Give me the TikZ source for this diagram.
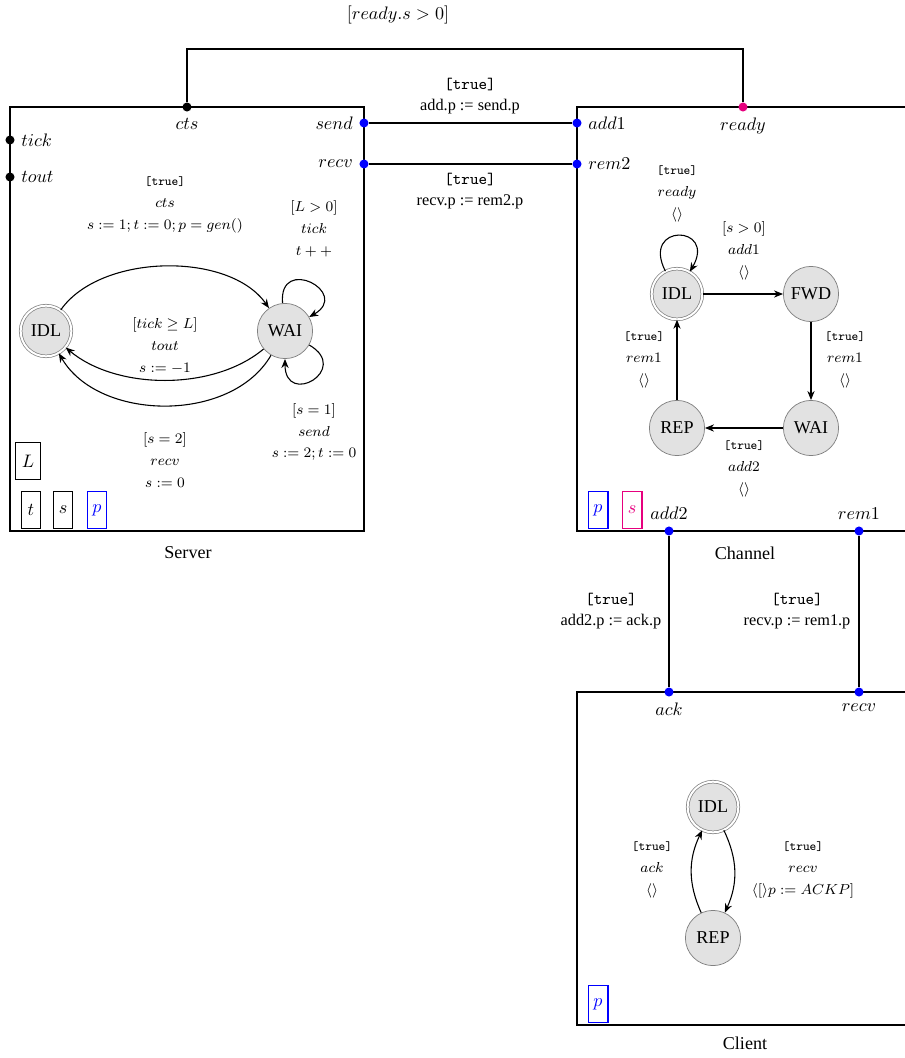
\documentclass[tikz,border=0pt]{standalone}
\usepackage{fontspec}
\setmainfont{Liberation Serif}
\usetikzlibrary{arrows.meta,positioning}
\definecolor{PortBlue}{RGB}{0,0,255}
\definecolor{PortPink}{RGB}{230,0,126}
\definecolor{StFill}{RGB}{226,226,226}
\definecolor{StDraw}{RGB}{128,128,128}
\newcommand{\tru}{\texttt{\scriptsize[true]}}

\begin{document}
\begin{tikzpicture}[x=0.5525pt,y=-0.5525pt,
  state/.style={circle,draw=StDraw,fill=StFill,minimum size=30.5pt,inner sep=0pt},
  init/.style={state,double=white,double distance=1.1pt,minimum size=28pt},
  comp/.style={draw,semithick},
  port/.style={circle,fill=#1,inner sep=0pt,minimum size=5pt},
  var/.style={draw=#1,text=#1,semithick,minimum width=11pt,minimum height=20pt,inner sep=1pt},
  trans/.style={->,>={Stealth[length=5pt,width=4pt]},semithick},
  link/.style={semithick},
  elab/.style={font=\footnotesize,align=center},
  llab/.style={font=\small,align=center}
]
\useasboundingbox (0,0) rectangle (905,1058);
\clip (0,0) rectangle (905,1058);

% components
\draw[comp] (10,107) rectangle (364,531);
\draw[comp] (577,107) rectangle (940,531);
\draw[comp] (577,692) rectangle (940,1025);
\node (srvname) at (188,553) {Server};
\node (chname) at (745,553) {Channel};
\node (clname) at (745,1043) {Client};

% ports
\node[port=black,label={right:$tick$}] (tick) at (10,140) {};
\node[port=black,label={right:$tout$}] (tout) at (10,177) {};
\node[port=black,label={below:$cts$}] (cts) at (187,107) {};
\node[port=PortBlue,label={left:$send$}] (send) at (364,123) {};
\node[port=PortBlue,label={left:$recv$}] (srecv) at (364,164) {};
\node[port=PortBlue,label={right:$add1$}] (add1) at (577,123) {};
\node[port=PortBlue,label={right:$rem2$}] (rem2) at (577,164) {};
\node[port=PortPink,label={below:$ready$}] (ready) at (743,107) {};
\node[port=PortBlue,label={above:$add2$}] (add2) at (669,531) {};
\node[port=PortBlue,label={above:$rem1$}] (rem1) at (859,531) {};
\node[port=PortBlue,label={below:$ack$}] (ack) at (669,692) {};
\node[port=PortBlue,label={below:$recv$}] (crecv) at (859,692) {};

% links
\coordinate (bridge) at (465,49);
\draw[link] (cts) |- (bridge) -| (ready);
\draw[link] (send) -- (add1);
\draw[link] (srecv) -- (rem2);
\draw[link] (add2) -- (ack);
\draw[link] (rem1) -- (crecv);
\node (guard) at (398,15) {$[ready.s > 0]$};
\node[llab] (l1) at (470,96) {\texttt{[true]}\\[1pt] add.p := send.p};
\node[llab] (l2) at (470,191) {\texttt{[true]}\\[1pt] recv.p := rem2.p};
\node[llab] (l3) at (611,611) {\texttt{[true]}\\[1pt] add2.p := ack.p};
\node[llab] (l4) at (797,611) {\texttt{[true]}\\[1pt] recv.p := rem1.p};

% server
\node[init] (sidl) at (46,331) {IDL};
\node[state] (swai) at (285,331) {WAI};
\draw[trans] (sidl) to[out=55,in=125,looseness=0.85] (swai);
\draw[trans] (swai) to[out=-140,in=-40,looseness=0.85] (sidl);
\draw[trans] (swai) to[out=-120,in=-60,looseness=0.95] (sidl);
\draw[trans] (swai) to[out=95,in=30,min distance=27pt] (swai);
\draw[trans] (swai) to[out=-30,in=-90,min distance=27pt] (swai);
\node[elab] (e1) at (165,205) {\tru\\[2.5pt] $cts$\\[2.5pt] $s := 1; t := 0; p = gen()$};
\node[elab] (e2) at (314,229) {$[L > 0]$\\[2.5pt] $tick$\\[2.5pt] $t++$};
\node[elab] (e3) at (165,346) {$[tick \geq L]$\\[2.5pt] $tout$\\[2.5pt] $s := -1$};
\node[elab] (e4) at (314,432) {$[s = 1]$\\[2.5pt] $send$\\[2.5pt] $s := 2; t := 0$};
\node[elab] (e5) at (165,460) {$[s = 2]$\\[2.5pt] $recv$\\[2.5pt] $s := 0$};
\node[var=black,minimum width=14pt] (vL) at (28,461) {$L$};
\node[var=black] (vt) at (31,510) {$t$};
\node[var=black] (vs) at (63,510) {$s$};
\node[var=PortBlue] (vp) at (97,510) {$p$};

% channel
\node[init] (cidl) at (677,294) {IDL};
\node[state] (cfwd) at (811,294) {FWD};
\node[state] (cwai) at (811,428) {WAI};
\node[state] (crep) at (677,428) {REP};
\draw[trans] (cidl) -- (cfwd);
\draw[trans] (cfwd) -- (cwai);
\draw[trans] (cwai) -- (crep);
\draw[trans] (crep) -- (cidl);
\draw[trans] (cidl) to[out=117,in=60,min distance=30pt] (cidl);
\node[elab] (c1) at (677,194) {\tru\\[2.5pt] $ready$\\[2.5pt] $\langle\rangle$};
\node[elab] (c2) at (744,251) {$[s > 0]$\\[2.5pt] $add1$\\[2.5pt] $\langle\rangle$};
\node[elab] (c3) at (644,360) {\tru\\[2.5pt] $rem1$\\[2.5pt] $\langle\rangle$};
\node[elab] (c4) at (845,360) {\tru\\[2.5pt] $rem1$\\[2.5pt] $\langle\rangle$};
\node[elab] (c5) at (744,469) {\tru\\[2.5pt] $add2$\\[2.5pt] $\langle\rangle$};
\node[var=PortBlue] (cp) at (598,510) {$p$};
\node[var=PortPink] (cs) at (632,510) {$s$};

% client
\node[init] (kidl) at (713,807) {IDL};
\node[state] (krep) at (713,938) {REP};
\draw[trans] (kidl) to[bend left=25] (krep);
\draw[trans] (krep) to[bend left=25] (kidl);
\node[elab] (k1) at (652,870) {\tru\\[2.5pt] $ack$\\[2.5pt] $\langle\rangle$};
\node[elab] (k2) at (803,870) {\tru\\[2.5pt] $recv$\\[2.5pt] $\langle[\rangle p := ACKP]$};
\node[var=PortBlue] (kp) at (598,1004) {$p$};
\end{tikzpicture}
\end{document}
